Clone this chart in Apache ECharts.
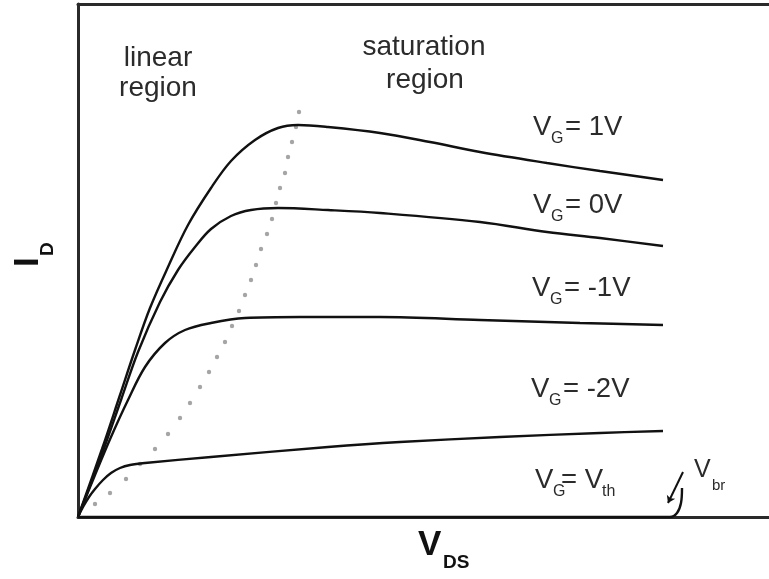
<!DOCTYPE html>
<html>
<head>
<meta charset="utf-8">
<title>MOSFET output characteristics</title>
<script src="https://cdn.jsdelivr.net/npm/echarts@6/dist/echarts.min.js"></script>
<style>
  html, body { margin: 0; padding: 0; background: #ffffff; }
  #chart { width: 769px; height: 579px; }
</style>
</head>
<body>
<div id="chart"></div>
<script>
// Drain current I_D versus drain-source voltage V_DS (arbitrary units) for several gate voltages.
const vgLabels = ['1V', '0V', '-1V', '-2V'];

const curveVg1 = [[0,0],[0.24,0.68],[0.42,1.22],[0.57,1.67],[0.72,2.09],[0.90,2.50],[1.10,2.92],[1.33,3.29],[1.53,3.56],[1.77,3.77],[2.00,3.89],[2.20,3.92],[2.50,3.90],[3.02,3.84],[3.52,3.75],[4.02,3.65],[4.69,3.54],[5.22,3.46],[5.85,3.37]];
const curveVg0 = [[0,0],[0.25,0.66],[0.43,1.17],[0.60,1.65],[0.82,2.15],[1.00,2.47],[1.17,2.70],[1.33,2.88],[1.53,3.01],[1.73,3.07],[2.00,3.09],[2.50,3.07],[3.02,3.04],[4.02,2.95],[4.69,2.85],[5.22,2.79],[5.85,2.71]];
const curveVgM1 = [[0,0],[0.17,0.42],[0.33,0.80],[0.50,1.17],[0.67,1.50],[0.87,1.74],[1.07,1.87],[1.33,1.94],[1.67,1.99],[2.22,2.00],[3.02,2.00],[4.02,1.97],[5.02,1.94],[5.85,1.92]];
const curveVgM2 = [[0,0],[0.05,0.10],[0.11,0.20],[0.17,0.28],[0.25,0.37],[0.33,0.44],[0.42,0.49],[0.52,0.52],[0.67,0.54],[1.33,0.60],[2.50,0.70],[3.22,0.75],[4.22,0.80],[5.22,0.84],[5.85,0.86]];
const curveVth = [[0,0],[5.85,0],[5.92,0],[5.99,0.04],[6.03,0.14],[6.04,0.29]];

// boundary between linear and saturation regions (V_DS = V_GS - V_th locus)
const satBoundary = [[0.17,0.13],[0.32,0.24],[0.48,0.38],[0.62,0.53],[0.77,0.68],[0.90,0.83],[1.02,0.99],[1.12,1.14],[1.22,1.30],[1.31,1.45],[1.39,1.60],[1.47,1.75],[1.54,1.91],[1.61,2.06],[1.67,2.22],[1.73,2.37],[1.78,2.52],[1.83,2.68],[1.89,2.83],[1.94,2.98],[1.98,3.14],[2.02,3.29],[2.07,3.44],[2.10,3.60],[2.14,3.75],[2.18,3.90],[2.21,4.05]];

// arrow pointing at the breakdown voltage
const breakdownArrow = [[6.05,0.45],[5.90,0.14]];

const X_MAX = 6.91;
const Y_MAX = 5.13;

const FONT = "'Liberation Sans', Arial, Helvetica, sans-serif";
const TXT = '#2b2b2b';
const AXIS_LINE = { show: true, lineStyle: { color: '#2a2a2a', width: 3 } };

function curve(name, data) {
  return {
    name: name, type: 'line', data: data, smooth: 0.35, showSymbol: false,
    clip: false, silent: true,
    lineStyle: { color: '#111', width: 2.4 }
  };
}

function txt(x, y, text, size, opts) {
  opts = opts || {};
  return {
    type: 'text', x: x, y: y, rotation: opts.rotation || 0, silent: true,
    style: {
      text: text,
      font: (opts.bold ? 'bold ' : '') + size + 'px ' + FONT,
      fill: opts.color || TXT,
      textAlign: opts.align || 'left', align: opts.align || 'left',
      textVerticalAlign: 'middle', verticalAlign: 'middle'
    }
  };
}

// gate-voltage label: "V" + subscript "G" + remainder (+ optional trailing subscript)
function gateLabel(xV, base, rest, restDx, sub2, sub2Dx) {
  const els = [
    txt(xV, base - 9, 'V', 27.5),
    txt(xV + 18, base + 3, 'G', 16),
    txt(xV + restDx, base - 9, rest, 27.5)
  ];
  if (sub2) els.push(txt(xV + sub2Dx, base + 3, sub2, 16));
  return els;
}

const graphics = [].concat(
  txt(158, 58, 'linear', 28, { align: 'center' }),
  txt(158, 88, 'region', 28, { align: 'center' }),
  txt(424, 47, 'saturation', 28, { align: 'center' }),
  txt(425, 80, 'region', 28, { align: 'center' }),
  gateLabel(533, 136, '= ' + vgLabels[0], 32),
  gateLabel(533, 214, '= ' + vgLabels[1], 32),
  gateLabel(532, 297, '= ' + vgLabels[2], 32),
  gateLabel(531, 398, '= ' + vgLabels[3], 32),
  gateLabel(535, 489, '= V', 26, 'th', 67),
  txt(694, 470, 'V', 25),
  txt(712, 486, 'br', 15),
  // axis titles
  txt(418, 545, 'V', 35, { bold: true, color: '#111' }),
  txt(443, 563, 'DS', 19, { bold: true, color: '#111' }),
  txt(28, 267, 'I', 35, { bold: true, color: '#111', rotation: Math.PI / 2 }),
  txt(48, 256, 'D', 19, { bold: true, color: '#111', rotation: Math.PI / 2 })
);

const hiddenParts = {
  axisTick: { show: false }, axisLabel: { show: false }, splitLine: { show: false }
};

const chart = echarts.init(document.getElementById('chart'), null, { renderer: 'canvas' });
chart.setOption({
  animation: false,
  backgroundColor: '#ffffff',
  grid: { left: 78, top: 4, right: 0, bottom: 62, show: false },
  xAxis: [
    Object.assign({ type: 'value', min: 0, max: X_MAX, position: 'bottom', axisLine: AXIS_LINE }, hiddenParts),
    Object.assign({ type: 'value', min: 0, max: X_MAX, position: 'top', axisLine: AXIS_LINE }, hiddenParts)
  ],
  yAxis: Object.assign({ type: 'value', min: 0, max: Y_MAX, axisLine: AXIS_LINE }, hiddenParts),
  series: [
    curve('VG=1V', curveVg1),
    curve('VG=0V', curveVg0),
    curve('VG=-1V', curveVgM1),
    curve('VG=-2V', curveVgM2),
    Object.assign(curve('VG=Vth', curveVth), {
      markLine: {
        silent: true, symbolSize: 7, animation: false,
        label: { show: false },
        lineStyle: { color: '#111', width: 2, type: 'solid' },
        data: [[
          { coord: breakdownArrow[0], symbol: 'none' },
          { coord: breakdownArrow[1], symbol: 'arrow' }
        ]]
      }
    }),
    {
      name: 'boundary', type: 'scatter', data: satBoundary, silent: true,
      symbol: 'circle', symbolSize: 4.4,
      itemStyle: { color: '#8e8e8e' }, z: 1
    }
  ],
  graphic: graphics
});
</script>
</body>
</html>
